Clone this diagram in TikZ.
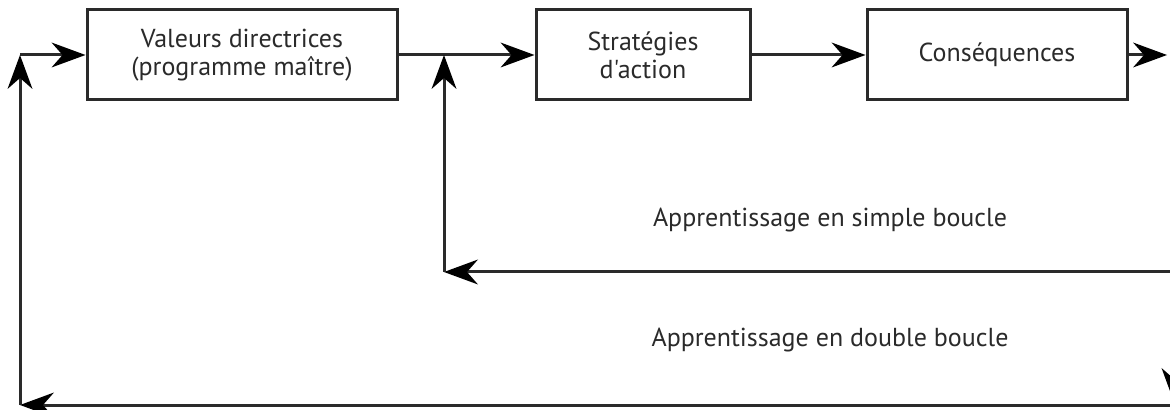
\documentclass[tikz,border=0pt]{standalone}
\usepackage{fontspec}
% plain family: no TeX ligature mapping, so ' stays a straight quote
\newfontfamily\ptsans{PT Sans}
\usetikzlibrary{arrows.meta}
\definecolor{ink}{HTML}{2A2A2A}
\tikzset{
  box/.style={draw=ink, line width=1.5pt, inner sep=0pt, minimum height=45pt,
    align=center, text=ink, font=\ptsans\fontsize{13}{14}\selectfont},
  flow/.style={draw=ink, line width=1.5pt,
    -{Stealth[length=17pt, width=12.5pt, inset=5.5pt, fill=black, line width=0pt]}},
  lbl/.style={text=ink, font=\ptsans\fontsize{13}{14}\selectfont, inner sep=0pt}
}
\begin{document}
\begin{tikzpicture}[x=0.5pt, y=-0.5pt]
  \useasboundingbox (0,0) rectangle (1170,410);
  \clip (0,0) rectangle (1170,410);

  % the three stages
  \node[box, minimum width=155pt] (val) at (242,55) {Valeurs directrices\\(programme maître)};
  \node[box, minimum width=107pt] (strat) at (643,55) {Stratégies\\d'action};
  \node[box, minimum width=130pt] (cons) at (997,55) {Conséquences};

  % loop corners
  \coordinate (dblTop) at (20,55);
  \coordinate (dblBot) at (20,405);
  \coordinate (smpTop) at (444,55);
  \coordinate (smpBot) at (444,272);
  \coordinate (out)    at (1167,55);
  \coordinate (rTop)   at (1174,55);
  \coordinate (rMid)   at (1174,272);
  \coordinate (rBot)   at (1174,405);
  \coordinate (rTip)   at (1174,402);

  % forward chain
  \draw[flow] (dblTop) -- (val.west);
  \draw[flow] (val.east) -- (strat.west);
  \draw[flow] (strat.east) -- (cons.west);
  \draw[flow] (cons.east) -- (out);

  % return path on the right
  \draw[flow] (rTop) -- (rTip);

  % single loop
  \draw[flow] (rMid) -- (smpBot);
  \draw[flow] (smpBot) -- (smpTop);

  % double loop
  \draw[flow] (rBot) -- (dblBot);
  \draw[flow] (dblBot) -- (dblTop);

  % loop labels
  \node[lbl] (simple) at (830,220) {Apprentissage en simple boucle};
  \node[lbl] (double) at (830,340) {Apprentissage en double boucle};
\end{tikzpicture}
\end{document}
